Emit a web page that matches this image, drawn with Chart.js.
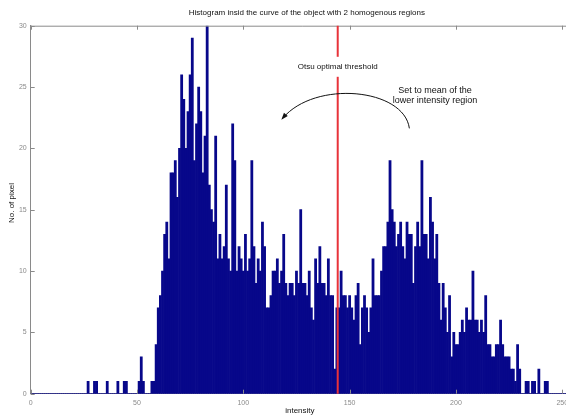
<!DOCTYPE html>
<html><head><meta charset="utf-8">
<script src="https://cdn.jsdelivr.net/npm/chart.js@4.4.1/dist/chart.umd.min.js"></script>
<style>
html,body{margin:0;padding:0;background:#fff;overflow:hidden;width:566px;height:417px}
#wrap{position:absolute;left:0;top:0;width:600px;height:417px}
</style>
</head><body><div id="wrap"><canvas id="c" width="600" height="417"></canvas></div>
<script>
const titleText = "Histogram insid the curve of the object with 2 homogenous regions";
const xAxisTitle = "intensity";
const yAxisTitle = "No. of pixel";
const thresholdLabel = "Otsu optimal threshold";
const arrowLabel = ["Set to mean of the", "lower intensity region"];
const xTicks = [0, 50, 100, 150, 200, 250];
const yTicks = [0, 5, 10, 15, 20, 25, 30];
const otsuThreshold = 144.4;
// pixel counts for intensity bins 0..255
const counts = [
  0,0,0,0,0,0,0,0,0,0,            // 0-9
  0,0,0,0,0,0,0,0,0,0,            // 10-19
  0,0,0,0,0,0,0,1,0,0,            // 20-29
  1,1,0,0,0,0,1,0,0,0,            // 30-39
  0,1,0,0,1,1,0,0,0,0,            // 40-49
  0,1,3,1,0,0,0,1,1,4,            // 50-59
  7,8,10,13,14,11,18,18,19,16,    // 60-69
  20,26,24,20,23,26,29,19,22,25,  // 70-79
  23,18,21,30,17,15,14,21,11,13,  // 80-89
  11,12,17,11,10,22,19,10,12,11,  // 90-99
  10,13,10,11,19,12,9,11,10,14,   // 100-109
  12,7,7,8,10,10,11,9,10,13,      // 110-119
  9,8,9,9,8,10,9,15,9,9,          // 120-129
  8,10,7,6,11,9,12,9,9,8,         // 130-139
  11,8,8,2,7,7,10,8,8,7,          // 140-149
  8,7,6,8,9,4,7,8,7,5,            // 150-159
  7,11,8,8,8,10,12,12,14,19,      // 160-169
  15,14,12,13,14,12,11,14,13,13,  // 170-179
  9,12,14,12,19,13,13,11,16,14,   // 180-189
  11,13,9,6,9,7,5,8,3,5,          // 190-199
  4,4,5,6,5,7,6,6,10,6,           // 200-209
  6,5,6,5,8,4,4,3,3,4,            // 210-219
  4,6,4,3,3,3,2,2,1,4,            // 220-229
  2,0,0,1,1,0,1,1,0,2,            // 230-239
  0,0,1,1,0,0,0,0,0,0,            // 240-249
  0,0,0,0,0,0                     // 250-255
];
const bins = counts.map((c, i) => ({ x: i, y: c }));

const FONT = "'Liberation Sans', Arial, sans-serif";
const AXIS_GREY = '#8a8a8a';

const decor = {
  id: 'decor',
  afterDatasetsDraw(chart) {
    const { ctx, chartArea: a, scales: { x, y } } = chart;
    ctx.save();
    // inward tick marks + top box line
    ctx.strokeStyle = AXIS_GREY; ctx.lineWidth = 1;
    ctx.beginPath(); ctx.moveTo(a.left, a.top + 0.5); ctx.lineTo(a.right, a.top + 0.5); ctx.stroke();
    xTicks.forEach(v => {
      const px = Math.round(x.getPixelForValue(v)) + 0.5;
      ctx.beginPath(); ctx.moveTo(px, a.bottom); ctx.lineTo(px, a.bottom - 4); ctx.stroke();
      ctx.beginPath(); ctx.moveTo(px, a.top); ctx.lineTo(px, a.top + 4); ctx.stroke();
    });
    yTicks.forEach(v => {
      const py = Math.round(y.getPixelForValue(v)) + 0.5;
      ctx.beginPath(); ctx.moveTo(a.left, py); ctx.lineTo(a.left + 4, py); ctx.stroke();
    });
    // threshold line
    const tx = x.getPixelForValue(otsuThreshold);
    ctx.strokeStyle = '#e8333a'; ctx.lineWidth = 2;
    ctx.beginPath(); ctx.moveTo(tx, a.top); ctx.lineTo(tx, a.bottom); ctx.stroke();
    // threshold label with white box
    ctx.font = '8px ' + FONT;
    ctx.textAlign = 'center'; ctx.textBaseline = 'middle';
    const ly = y.getPixelForValue(26.65);
    const tw = ctx.measureText(thresholdLabel).width;
    ctx.fillStyle = '#fff';
    ctx.fillRect(tx - tw / 2 - 6, ly - 10, tw + 12, 20);
    ctx.fillStyle = '#111';
    ctx.fillText(thresholdLabel, tx, ly);
    // arrow label
    ctx.font = '9px ' + FONT;
    ctx.fillText(arrowLabel[0], x.getPixelForValue(190.2), y.getPixelForValue(24.75));
    ctx.fillText(arrowLabel[1], x.getPixelForValue(190.2), y.getPixelForValue(23.88));
    // curved arrow
    const P = (vx, vy) => [x.getPixelForValue(vx), y.getPixelForValue(vy)];
    const p0 = P(178.1, 21.63), c1 = P(175.6, 24.9), c2 = P(133.7, 25.6), p3 = P(118.5, 22.45);
    ctx.strokeStyle = '#111'; ctx.lineWidth = 1;
    ctx.beginPath(); ctx.moveTo(p0[0], p0[1]);
    ctx.bezierCurveTo(c1[0], c1[1], c2[0], c2[1], p3[0], p3[1]); ctx.stroke();
    const ang = Math.atan2(p3[1] - c2[1], p3[0] - c2[0]);
    ctx.fillStyle = '#111';
    ctx.beginPath();
    ctx.moveTo(p3[0] + 2 * Math.cos(ang), p3[1] + 2 * Math.sin(ang));
    ctx.lineTo(p3[0] - 5 * Math.cos(ang) + 2.5 * Math.sin(ang), p3[1] - 5 * Math.sin(ang) - 2.5 * Math.cos(ang));
    ctx.lineTo(p3[0] - 5 * Math.cos(ang) - 2.5 * Math.sin(ang), p3[1] - 5 * Math.sin(ang) + 2.5 * Math.cos(ang));
    ctx.closePath(); ctx.fill();
    ctx.restore();
  },
  afterDraw(chart) {
    const { ctx, chartArea: a } = chart;
    ctx.save();
    ctx.fillStyle = '#111';
    ctx.textAlign = 'center'; ctx.textBaseline = 'middle';
    ctx.font = '8px ' + FONT;
    ctx.fillText(titleText, (a.left + a.right) / 2 + 4, 13);
    ctx.fillText(xAxisTitle, (a.left + a.right) / 2 - 3, 411);
    ctx.translate(12, 203);
    ctx.rotate(-Math.PI / 2);
    ctx.fillText(yAxisTitle, 0, 0);
    ctx.restore();
  }
};

new Chart(document.getElementById('c'), {
  type: 'bar',
  data: {
    datasets: [{
      data: bins,
      backgroundColor: '#07078a',
      borderWidth: 0,
      barPercentage: 1,
      categoryPercentage: 1
    }]
  },
  options: {
    responsive: false,
    devicePixelRatio: 1,
    animation: false,
    events: [],
    layout: { padding: { top: 25.7, right: 25, left: 0, bottom: 0 } },
    plugins: { legend: { display: false }, tooltip: { enabled: false }, title: { display: false } },
    scales: {
      x: {
        type: 'linear', min: 0, max: 256, offset: false,
        afterBuildTicks: s => { s.ticks = xTicks.map(v => ({ value: v })); },
        afterFit: s => { s.height = 23.3; },
        grid: { display: false, drawTicks: false, offset: false },
        border: { display: true, color: AXIS_GREY, width: 1 },
        ticks: { color: '#8a8a8a', font: { size: 7, family: FONT }, padding: 5, maxRotation: 0 }
      },
      y: {
        min: 0, max: 30,
        afterBuildTicks: s => { s.ticks = yTicks.map(v => ({ value: v })); },
        afterFit: s => { s.width = 30.7; },
        grid: { display: false, drawTicks: false },
        border: { display: true, color: AXIS_GREY, width: 1 },
        ticks: { color: '#8a8a8a', font: { size: 7, family: FONT }, padding: 4 }
      }
    }
  },
  plugins: [decor]
});
</script>
</body></html>
